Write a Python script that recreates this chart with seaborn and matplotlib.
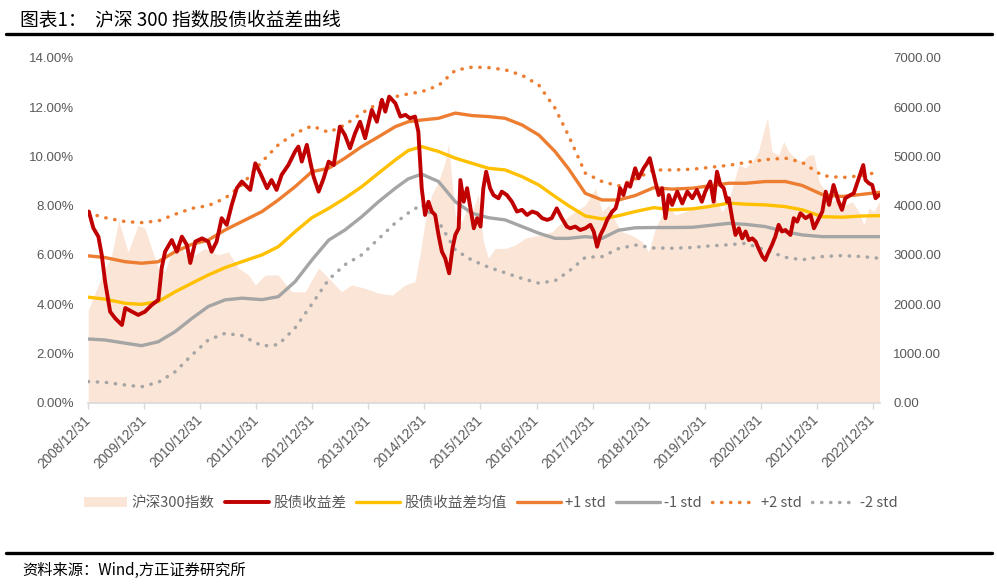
import matplotlib
matplotlib.use("Agg")
import matplotlib.pyplot as plt
import seaborn as sns
import pandas as pd
from matplotlib.lines import Line2D
from matplotlib.patches import Patch
from matplotlib.font_manager import FontProperties

sns.set_theme(style="white")
plt.rcParams["font.family"] = ["Liberation Sans", "Noto Sans CJK SC", "DejaVu Sans"]
plt.rcParams["axes.unicode_minus"] = False

# ---- data (x as decimal years) ----
# 股债收益差 (%)
spread_yr = [2009.01, 2009.09, 2009.18, 2009.24, 2009.30, 2009.39, 2009.48, 2009.60, 2009.66, 2009.78, 2009.89,
             2010.01, 2010.13, 2010.25, 2010.31, 2010.37, 2010.49, 2010.58, 2010.67, 2010.76, 2010.82, 2010.91,
             2011.03, 2011.14, 2011.20, 2011.29, 2011.38, 2011.47, 2011.56, 2011.65, 2011.74, 2011.80, 2011.89, 2011.98,
             2012.07, 2012.19, 2012.27, 2012.36, 2012.45, 2012.57, 2012.69, 2012.75, 2012.81, 2012.90, 2012.96,
             2013.02, 2013.11, 2013.20, 2013.29, 2013.38, 2013.49, 2013.58, 2013.67, 2013.76, 2013.85, 2013.94,
             2014.06, 2014.15, 2014.24, 2014.30, 2014.37, 2014.48, 2014.57, 2014.66, 2014.74, 2014.83, 2014.89, 2014.95,
             2015.01, 2015.07, 2015.13, 2015.19, 2015.25, 2015.31, 2015.37, 2015.44, 2015.50, 2015.55, 2015.61, 2015.64,
             2015.70, 2015.76, 2015.82, 2015.88, 2015.94,
             2016.00, 2016.05, 2016.10, 2016.17, 2016.23, 2016.32, 2016.38, 2016.47, 2016.56, 2016.65, 2016.74, 2016.83, 2016.92,
             2017.01, 2017.10, 2017.19, 2017.27, 2017.36, 2017.45, 2017.54, 2017.60, 2017.69, 2017.78, 2017.87, 2017.96,
             2018.02, 2018.08, 2018.14, 2018.20, 2018.26, 2018.35, 2018.41, 2018.46, 2018.49, 2018.55, 2018.61, 2018.67,
             2018.76, 2018.82, 2018.91, 2018.97,
             2019.02, 2019.07, 2019.12, 2019.18, 2019.24, 2019.30, 2019.36, 2019.42, 2019.51, 2019.60, 2019.69, 2019.78, 2019.86, 2019.95,
             2020.01, 2020.10, 2020.16, 2020.22, 2020.28, 2020.34, 2020.40, 2020.43, 2020.49, 2020.55, 2020.61, 2020.67,
             2020.73, 2020.79, 2020.85, 2020.91, 2020.96,
             2021.03, 2021.08, 2021.13, 2021.20, 2021.26, 2021.32, 2021.38, 2021.44, 2021.53, 2021.59, 2021.65, 2021.71, 2021.80, 2021.89, 2021.95,
             2022.01, 2022.10, 2022.16, 2022.22, 2022.30, 2022.39, 2022.45, 2022.51, 2022.60, 2022.66, 2022.75, 2022.83, 2022.87, 2022.93, 2022.99,
             2023.05, 2023.11]
spread = [7.76, 7.09, 6.74, 6.00, 4.91, 3.69, 3.42, 3.15, 3.84, 3.69, 3.56,
          3.69, 3.96, 4.17, 5.47, 6.13, 6.60, 6.13, 6.74, 6.40, 5.67, 6.54,
          6.67, 6.54, 6.13, 6.54, 7.49, 7.22, 8.03, 8.71, 8.98, 8.84, 8.64, 9.72,
          9.32, 8.71, 9.04, 8.64, 9.25, 9.65, 10.20, 10.40, 9.79, 10.47, 9.79,
          9.18, 8.57, 9.11, 9.79, 9.65, 11.21, 10.87, 10.33, 10.94, 11.41, 10.74,
          11.89, 11.41, 12.30, 11.82, 12.43, 12.16, 11.62, 11.69, 11.55, 11.62, 11.01, 8.71,
          7.62, 8.16, 7.76, 7.62, 6.81, 6.13, 5.86, 5.25, 6.27, 6.81, 7.08, 9.04,
          8.16, 8.71, 7.89, 7.08, 7.49,
          7.15, 8.71, 9.38, 8.71, 8.43, 8.30, 8.57, 8.43, 8.16, 7.76, 7.83, 7.62, 7.76,
          7.69, 7.49, 7.42, 7.49, 7.89, 7.49, 7.15, 7.08, 7.15, 7.01, 7.08, 7.22,
          6.95, 6.33, 6.81, 7.08, 7.42, 7.76, 7.89, 8.30, 8.71, 8.43, 8.91, 8.77,
          9.52, 9.11, 9.52, 9.72,
          9.93, 9.45, 8.98, 8.43, 8.71, 7.49, 8.43, 8.03, 8.57, 8.09, 8.57, 8.30, 8.64, 8.16,
          8.57, 8.98, 8.16, 9.38, 8.84, 8.71, 8.16, 8.30, 7.49, 6.81, 7.08, 6.67,
          6.95, 6.60, 6.67, 6.54, 6.27,
          5.93, 5.79, 6.06, 6.40, 6.74, 7.22, 6.95, 7.01, 6.81, 7.49, 7.35, 7.69, 7.49, 7.62, 7.08,
          7.35, 7.76, 8.57, 8.03, 8.84, 8.16, 7.83, 8.30, 8.43, 8.50, 9.11, 9.65, 9.04, 8.91, 8.84,
          8.30, 8.43]

# 均值 and std bands (%)
band_yr = [2009.00, 2009.30, 2009.66, 2009.95, 2010.25, 2010.55, 2010.85, 2011.14, 2011.44, 2011.74,
           2012.10, 2012.39, 2012.69, 2012.99, 2013.29, 2013.58, 2013.88, 2014.18, 2014.48, 2014.71,
           2014.95, 2015.25, 2015.55, 2015.85, 2016.14, 2016.44, 2016.74, 2017.04, 2017.33, 2017.57,
           2017.87, 2018.17, 2018.46, 2018.76, 2019.09, 2019.42, 2019.78, 2020.07, 2020.43, 2020.73,
           2021.08, 2021.44, 2021.74, 2022.10, 2022.45, 2022.81, 2023.12]
mean = [4.28, 4.20, 4.03, 3.99, 4.10, 4.50, 4.85, 5.18, 5.48, 5.72,
        6.00, 6.33, 6.94, 7.51, 7.89, 8.30, 8.77, 9.32, 9.86, 10.24,
        10.40, 10.20, 9.93, 9.72, 9.52, 9.45, 9.18, 8.84, 8.37, 8.00,
        7.58, 7.46, 7.59, 7.76, 7.92, 7.83, 7.87, 7.96, 8.10, 8.06,
        8.03, 7.96, 7.83, 7.55, 7.53, 7.58, 7.59]
plus1 = [5.96, 5.89, 5.72, 5.66, 5.72, 6.13, 6.43, 6.60, 7.01, 7.35,
         7.76, 8.23, 8.77, 9.38, 9.52, 9.93, 10.40, 10.80, 11.21, 11.41,
         11.48, 11.55, 11.76, 11.66, 11.62, 11.55, 11.28, 10.87, 10.20, 9.50,
         8.50, 8.23, 8.23, 8.41, 8.73, 8.67, 8.71, 8.80, 8.91, 8.91,
         8.98, 8.98, 8.82, 8.45, 8.37, 8.46, 8.54]
minus1 = [2.58, 2.54, 2.41, 2.31, 2.47, 2.88, 3.42, 3.90, 4.17, 4.24,
          4.18, 4.30, 4.91, 5.79, 6.60, 7.01, 7.55, 8.16, 8.71, 9.09,
          9.28, 8.98, 8.16, 7.69, 7.51, 7.42, 7.15, 6.88, 6.67, 6.67,
          6.74, 6.67, 7.00, 7.10, 7.11, 7.11, 7.12, 7.19, 7.28, 7.24,
          7.15, 6.94, 6.81, 6.74, 6.74, 6.74, 6.74]
plus2 = [7.69, 7.51, 7.35, 7.31, 7.38, 7.65, 7.89, 8.00, 8.30, 8.84,
         9.79, 10.47, 10.94, 11.24, 10.98, 11.28, 11.76, 12.16, 12.43, 12.54,
         12.63, 12.88, 13.50, 13.63, 13.61, 13.52, 13.30, 12.90, 11.96, 10.85,
         9.32, 8.98, 8.80, 9.08, 9.45, 9.45, 9.48, 9.55, 9.64, 9.75,
         9.87, 9.93, 9.76, 9.22, 9.14, 9.22, 9.38]
minus2 = [0.85, 0.82, 0.71, 0.64, 0.82, 1.25, 1.93, 2.54, 2.81, 2.72,
          2.30, 2.35, 3.03, 4.00, 5.00, 5.60, 6.00, 6.65, 7.30, 7.70,
          8.05, 7.35, 6.20, 5.78, 5.50, 5.27, 5.04, 4.85, 4.95, 5.32,
          5.90, 5.93, 6.25, 6.40, 6.28, 6.27, 6.30, 6.36, 6.41, 6.47,
          6.20, 5.90, 5.80, 5.93, 5.97, 5.93, 5.86]

# 沪深300指数 (right axis)
csi_yr = [2009.00, 2009.18, 2009.30, 2009.42, 2009.54, 2009.71, 2009.89,
          2010.01, 2010.13, 2010.25, 2010.37, 2010.49, 2010.61, 2010.73, 2010.91,
          2011.08, 2011.32, 2011.50, 2011.68, 2011.86, 2011.98,
          2012.16, 2012.39, 2012.63, 2012.87,
          2013.11, 2013.35, 2013.52, 2013.70, 2013.94,
          2014.18, 2014.42, 2014.66, 2014.83, 2014.92,
          2015.01, 2015.13, 2015.25, 2015.37, 2015.43, 2015.49, 2015.55, 2015.67, 2015.76, 2015.85, 2015.96,
          2016.05, 2016.14, 2016.26, 2016.44, 2016.62, 2016.80,
          2017.04, 2017.28, 2017.52, 2017.69, 2017.87,
          2018.05, 2018.17, 2018.29, 2018.41, 2018.52, 2018.70, 2018.88,
          2019.00, 2019.12, 2019.24, 2019.36, 2019.48, 2019.66, 2019.83,
          2020.01, 2020.19, 2020.31, 2020.43, 2020.49, 2020.61, 2020.73, 2020.85, 2020.96,
          2021.05, 2021.12, 2021.20, 2021.32, 2021.41, 2021.50, 2021.62, 2021.74, 2021.86, 2021.95,
          2022.04, 2022.16, 2022.27, 2022.39, 2022.51, 2022.63, 2022.75, 2022.84, 2022.93,
          2023.02, 2023.12]
csi = [1880, 2390, 2730, 3000, 3700, 3060, 3600,
       3540, 3130, 2730, 2660, 3060, 3270, 3000, 3000,
       3130, 3000, 3060, 2730, 2590, 2390,
       2590, 2590, 2250, 2250,
       2730, 2455, 2250, 2390, 2320,
       2220, 2180, 2390, 2455, 3000,
       3670, 4220, 4490, 4890, 5270, 4490, 3810, 3670, 3950, 3880, 4220,
       3270, 2930, 3130, 3130, 3200, 3340,
       3400, 3470, 3740, 3880, 4010,
       4350, 3880, 4010, 3670, 3470, 3400, 3270,
       3060, 3540, 3810, 3950, 3810, 3880, 3950,
       3950, 4150, 3880, 4080, 4350, 4830, 4760, 4890, 5100,
       5500, 5780, 5100, 5030, 5300, 5100, 4960, 4890, 5030, 5030,
       4490, 4280, 4080, 4150, 4010, 4080, 3880, 3610, 3950,
       3880, 4080]

tick_labels = ["2008/12/31", "2009/12/31", "2010/12/31", "2011/12/31", "2012/12/31",
               "2013/12/31", "2014/12/31", "2015/12/31", "2016/12/31", "2017/12/31",
               "2018/12/31", "2019/12/31", "2020/12/31", "2021/12/31", "2022/12/31"]


def to_date(yrs):
    base = pd.Timestamp("2008-12-31")
    return [base + pd.Timedelta(days=(y - 2009.0) * 365.25) for y in yrs]


spread_df = pd.DataFrame({"date": to_date(spread_yr), "v": spread})
band_df = pd.DataFrame({"date": to_date(band_yr), "mean": mean, "p1": plus1,
                        "m1": minus1, "p2": plus2, "m2": minus2})
csi_df = pd.DataFrame({"date": to_date(csi_yr), "v": csi})

GRAY_TXT = "#595959"
FILL = "#FBE5D6"
RED = "#C00000"
YELLOW = "#FFC000"
ORANGE = "#ED7D31"
GRAY = "#A5A5A5"

fig = plt.figure(figsize=(9.97, 5.86), dpi=100)
ax = fig.add_axes([88.3 / 997, 1 - 402.5 / 586, (879.5 - 88.3) / 997, (402.5 - 58) / 586])
ax2 = ax.twinx()

ax2.fill_between(csi_df["date"], csi_df["v"], color=FILL, lw=0)

dot = (0, (0.1, 2.5))
sns.lineplot(data=band_df, x="date", y="p2", ax=ax, color=ORANGE, lw=2.5,
             linestyle=dot, dash_capstyle="round", label="+2 std")
sns.lineplot(data=band_df, x="date", y="m2", ax=ax, color=GRAY, lw=2.5,
             linestyle=dot, dash_capstyle="round", label="-2 std")
sns.lineplot(data=band_df, x="date", y="p1", ax=ax, color=ORANGE, lw=2.4, label="+1 std")
sns.lineplot(data=band_df, x="date", y="m1", ax=ax, color=GRAY, lw=2.4, label="-1 std")
sns.lineplot(data=band_df, x="date", y="mean", ax=ax, color=YELLOW, lw=2.4, label="股债收益差均值")
sns.lineplot(data=spread_df, x="date", y="v", ax=ax, color=RED, lw=2.8, label="股债收益差")

ax.set_zorder(ax2.get_zorder() + 1)
ax.patch.set_visible(False)

ax.set_xlim(spread_df["date"].iloc[0] - pd.Timedelta(days=1), band_df["date"].iloc[-1])
ax.set_ylim(0, 14)
ax2.set_ylim(0, 7000)

ax.set_yticks(range(0, 15, 2))
ax.set_yticklabels([f"{v:.2f}%" for v in range(0, 15, 2)])
ax2.set_yticks(range(0, 7001, 1000))
ax2.set_yticklabels([f"{v:.2f}" for v in range(0, 7001, 1000)])

tick_dates = pd.to_datetime(tick_labels, format="%Y/%m/%d")
ax.set_xticks(tick_dates)
ax.set_xticklabels(tick_labels, rotation=45, ha="right", va="center", rotation_mode="anchor")

for a in (ax, ax2):
    for s in a.spines.values():
        s.set_visible(False)
    a.set_xlabel("")
    a.set_ylabel("")
ax.spines["bottom"].set_visible(True)
ax.spines["bottom"].set_color("#D9D9D9")
ax.spines["bottom"].set_linewidth(1.2)

ax.tick_params(axis="x", length=4, width=1, color="#D9D9D9", pad=7,
               labelsize=9.8, labelcolor=GRAY_TXT, bottom=True)
ax.tick_params(axis="y", length=0, pad=10, labelsize=9.5, labelcolor=GRAY_TXT)
ax2.tick_params(axis="y", length=0, pad=10, labelsize=9.5, labelcolor=GRAY_TXT)
ax.grid(False)
ax2.grid(False)

# legend in the original order
h, l = ax.get_legend_handles_labels()
ax.get_legend().remove()
lut = dict(zip(l, h))
order = ["股债收益差", "股债收益差均值", "+1 std", "-1 std", "+2 std", "-2 std"]
handles = [Patch(facecolor=FILL, edgecolor="none")] + [lut[k] for k in order]
labels = ["沪深300指数"] + order
leg_font = FontProperties(family=["Noto Sans CJK SC", "DejaVu Sans"], size=10.5)
fig.legend(handles, labels, loc="center", bbox_to_anchor=(0.492, 1 - 503 / 586), ncol=7,
           frameon=False, handlelength=3.0, handletextpad=0.3, columnspacing=0.7,
           prop=leg_font, labelcolor=GRAY_TXT)

# header / footer
fig.text(20 / 997, 1 - 20 / 586, "图表1：  沪深 300 指数股债收益差曲线", fontsize=13.5,
         ha="left", va="center", color="black", family=["Noto Sans CJK SC", "DejaVu Sans"])
fig.add_artist(Line2D([6 / 997, 992 / 997], [1 - 33.5 / 586] * 2, color="black", lw=2.4))
fig.add_artist(Line2D([6 / 997, 992 / 997], [1 - 552.5 / 586] * 2, color="black", lw=2.4))
fig.text(22 / 997, 1 - 570 / 586, "资料来源：Wind,方正证券研究所", fontsize=11,
         ha="left", va="center", color="black", family=["Noto Sans CJK SC", "DejaVu Sans"])

fig.savefig("out.png", dpi=100)
